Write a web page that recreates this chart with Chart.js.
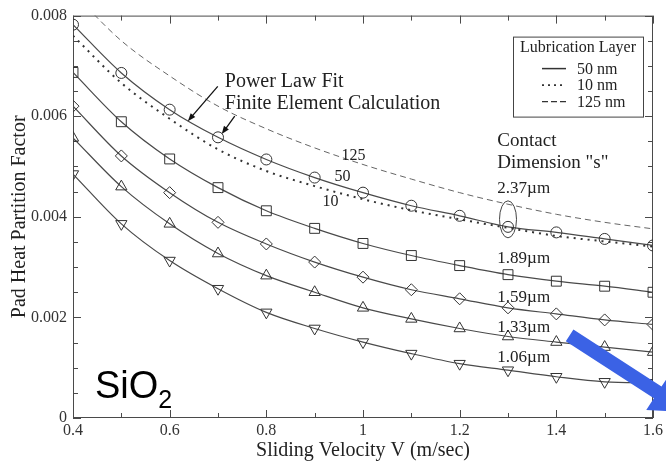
<!DOCTYPE html>
<html>
<head>
<meta charset="utf-8">
<script src="https://cdn.jsdelivr.net/npm/chart.js@4.4.1/dist/chart.umd.min.js"></script>
<style>
  html, body { margin: 0; padding: 0; background: #fff; }
  #wrap { width: 666px; height: 463px; }
</style>
</head>
<body>
<div id="wrap"><canvas id="c" width="666" height="463"></canvas></div>
<script>
// Sliding velocity (m/sec) at which each case was evaluated
const velocity = [0.4, 0.5, 0.6, 0.7, 0.8, 0.9, 1.0, 1.1, 1.2, 1.3, 1.4, 1.5, 1.6];

// Pad heat partition factor, 50 nm lubrication layer, by contact dimension "s"
const s237 = [0.00782, 0.00686, 0.00613, 0.00558, 0.00514, 0.00478, 0.00448, 0.00422, 0.00402, 0.00380, 0.00369, 0.00356, 0.00343];
const s189 = [0.00687, 0.00589, 0.00515, 0.00458, 0.00412, 0.00377, 0.00347, 0.00323, 0.00303, 0.00285, 0.00272, 0.00262, 0.00250];
const s159 = [0.00620, 0.00521, 0.00448, 0.00389, 0.00346, 0.00310, 0.00280, 0.00255, 0.00237, 0.00219, 0.00207, 0.00195, 0.00186];
const s133 = [0.00557, 0.00460, 0.00386, 0.00327, 0.00283, 0.00250, 0.00219, 0.00197, 0.00178, 0.00162, 0.00151, 0.00141, 0.00131];
const s106 = [0.00485, 0.00386, 0.00313, 0.00257, 0.00210, 0.00178, 0.00151, 0.00128, 0.00108, 0.00095, 0.00082, 0.00072, 0.00070];

// 2.37 µm contact with 10 nm and 125 nm lubrication layers
const lub10 = [0.00760, 0.00666, 0.00595, 0.00534, 0.00491, 0.00461, 0.00435, 0.00413, 0.00395, 0.00378, 0.00362, 0.00351, 0.00341];
const lub125 = [0.00845, 0.00750, 0.00680, 0.00620, 0.00575, 0.00537, 0.00504, 0.00475, 0.00448, 0.00425, 0.00405, 0.00389, 0.00376];

const sizeLabels = ['2.37\u00b5m', '1.89\u00b5m', '1.59\u00b5m', '1.33\u00b5m', '1.06\u00b5m'];
const lubLabels = ['50 nm', '10 nm', '125 nm'];
const xTickLabels = ['0.4', '0.6', '0.8', '1', '1.2', '1.4', '1.6'];
const yTickLabels = ['0', '0.002', '0.004', '0.006', '0.008'];

const SERIF = '"Liberation Serif", "Times New Roman", serif';
const SANS = '"Liberation Sans", Arial, sans-serif';
const INK = '#222';
const LINE = '#4a4a4a';

Chart.defaults.font.family = SERIF;
Chart.defaults.color = INK;

const pts = arr => velocity.map((v, i) => ({ x: v, y: arr[i] }));

function curve(label, arr, style, radius, rotation) {
  return {
    label, data: pts(arr),
    borderColor: LINE, borderWidth: 1.2,
    cubicInterpolationMode: 'monotone',
    pointStyle: style, pointRadius: radius, pointRotation: rotation || 0,
    pointBorderColor: '#333', pointBorderWidth: 1,
    pointBackgroundColor: 'rgba(0,0,0,0)'
  };
}

const datasets = [
  { label: '125 nm', data: pts(lub125), borderColor: '#666', borderWidth: 1,
    borderDash: [6, 4], pointRadius: 0, cubicInterpolationMode: 'monotone' },
  { label: '10 nm', data: pts(lub10), borderColor: '#333', borderWidth: 2,
    borderDash: [2, 5], pointRadius: 0, cubicInterpolationMode: 'monotone' },
  curve(sizeLabels[0], s237, 'circle', 5.5),
  curve(sizeLabels[1], s189, 'rect', 7),
  curve(sizeLabels[2], s159, 'rectRot', 6),
  curve(sizeLabels[3], s133, 'triangle', 6.5),
  curve(sizeLabels[4], s106, 'triangle', 6.5, 180)
];

// Text notes placed in data units
const notes = [
  { text: 'Power Law Fit', x: 0.714, y: 0.00659, size: 20 },
  { text: 'Finite Element Calculation', x: 0.714, y: 0.00614, size: 20 },
  { text: '125', x: 0.9556, y: 0.00513, size: 16 },
  { text: '50', x: 0.9411, y: 0.00471, size: 16 },
  { text: '10', x: 0.9163, y: 0.00422, size: 16 },
  { text: 'Contact', x: 1.278, y: 0.00541, size: 19 },
  { text: 'Dimension "s"', x: 1.278, y: 0.00497, size: 19 },
  { text: sizeLabels[0], x: 1.278, y: 0.00448, size: 17 },
  { text: sizeLabels[1], x: 1.278, y: 0.00309, size: 17 },
  { text: sizeLabels[2], x: 1.278, y: 0.00230, size: 17 },
  { text: sizeLabels[3], x: 1.278, y: 0.00170, size: 17 },
  { text: sizeLabels[4], x: 1.278, y: 0.00111, size: 17 }
];
const pointers = [
  { from: [0.6995, 0.006594], to: [0.6375, 0.005901] },
  { from: [0.7346, 0.00600], to: [0.7077, 0.005644] }
];
const ring = { x: 1.3, y: 0.00395, rx: 8.5, ry: 18.5 };
const material = { x: 0.4454, y: 0.000396 };
const blueArrow = { x: 1.4275, y: 0.001644, angle: 33, shaft: 105, half: 7, headHalf: 21, headLen: 36 };

const decor = {
  id: 'decor',
  beforeDatasetsDraw(chart) {
    const { ctx, chartArea: a, scales: { x, y } } = chart;
    ctx.save();
    ctx.strokeStyle = LINE;
    ctx.lineWidth = 1;
    ctx.strokeRect(a.left + 0.5, a.top + 0.5, a.right - a.left - 1, a.bottom - a.top - 1);

    const split = (scale, n) => {
      const v = scale.ticks.map(t => t.value);
      const minor = [];
      for (let i = 0; i + 1 < v.length; i++)
        for (let k = 1; k < n; k++) minor.push(v[i] + (v[i + 1] - v[i]) * k / n);
      return { major: v, minor };
    };
    const xs = split(x, 2), ys = split(y, 4);
    ctx.beginPath();
    const xt = (vals, len) => vals.forEach(v => {
      const p = Math.round(x.getPixelForValue(v)) + 0.5;
      ctx.moveTo(p, a.bottom); ctx.lineTo(p, a.bottom - len);
      ctx.moveTo(p, a.top); ctx.lineTo(p, a.top + len);
    });
    const yt = (vals, len) => vals.forEach(v => {
      const p = Math.round(y.getPixelForValue(v)) + 0.5;
      ctx.moveTo(a.left, p); ctx.lineTo(a.left + len, p);
      ctx.moveTo(a.right, p); ctx.lineTo(a.right - len, p);
    });
    xt(xs.major, 8); xt(xs.minor, 5);
    yt(ys.major, 8); yt(ys.minor, 5);
    ctx.stroke();
    ctx.restore();
  },
  afterDatasetsDraw(chart) {
    const { ctx, chartArea: a, scales: { x, y } } = chart;
    const px = v => x.getPixelForValue(v), py = v => y.getPixelForValue(v);
    ctx.save();
    ctx.fillStyle = INK;
    ctx.textBaseline = 'alphabetic';
    ctx.textAlign = 'left';
    notes.forEach(n => {
      ctx.font = n.size + 'px ' + SERIF;
      ctx.fillText(n.text, px(n.x), py(n.y));
    });

    // pointer arrows
    ctx.strokeStyle = '#111';
    ctx.fillStyle = '#111';
    ctx.lineWidth = 1.3;
    pointers.forEach(p => {
      const x0 = px(p.from[0]), y0 = py(p.from[1]), x1 = px(p.to[0]), y1 = py(p.to[1]);
      const ang = Math.atan2(y1 - y0, x1 - x0);
      ctx.beginPath(); ctx.moveTo(x0, y0);
      ctx.lineTo(x1 - 5 * Math.cos(ang), y1 - 5 * Math.sin(ang)); ctx.stroke();
      ctx.beginPath();
      ctx.moveTo(x1, y1);
      ctx.lineTo(x1 - 8 * Math.cos(ang) + 3 * Math.sin(ang), y1 - 8 * Math.sin(ang) - 3 * Math.cos(ang));
      ctx.lineTo(x1 - 8 * Math.cos(ang) - 3 * Math.sin(ang), y1 - 8 * Math.sin(ang) + 3 * Math.cos(ang));
      ctx.closePath(); ctx.fill();
    });

    // ellipse around the 2.37 µm pair at 1.3 m/sec
    ctx.strokeStyle = '#444';
    ctx.lineWidth = 1;
    ctx.beginPath();
    ctx.ellipse(px(ring.x), py(ring.y), ring.rx, ring.ry, 0, 0, Math.PI * 2);
    ctx.stroke();

    // legend box
    const lx = a.right - 140, ly = a.top + 21, w = 130, h = 80;
    ctx.fillStyle = '#fff';
    ctx.fillRect(lx, ly, w, h);
    ctx.strokeStyle = '#444';
    ctx.strokeRect(lx + 0.5, ly + 0.5, w, h);
    ctx.fillStyle = INK;
    ctx.font = '16px ' + SERIF;
    ctx.textAlign = 'center';
    ctx.fillText('Lubrication Layer', lx + w / 2, ly + 15);
    ctx.textAlign = 'left';
    const dashes = [[], [2, 4], [6, 3]];
    const widths = [1.5, 1.6, 1.3];
    lubLabels.forEach((t, i) => {
      const yy = ly + 32 + i * 16.5;
      ctx.save();
      ctx.strokeStyle = '#333';
      ctx.lineWidth = widths[i];
      ctx.setLineDash(dashes[i]);
      ctx.beginPath(); ctx.moveTo(lx + 29, yy); ctx.lineTo(lx + 53, yy); ctx.stroke();
      ctx.restore();
      ctx.fillText(t, lx + 64, yy + 5);
    });

    // material label
    ctx.fillStyle = '#000';
    ctx.font = '38px ' + SANS;
    const mx = px(material.x), my = py(material.y);
    ctx.fillText('SiO', mx, my);
    const wSiO = ctx.measureText('SiO').width;
    ctx.font = '25px ' + SANS;
    ctx.fillText('2', mx + wSiO, my + 10);

    // blue arrow
    const bx = px(blueArrow.x), by = py(blueArrow.y);
    const t = blueArrow.angle * Math.PI / 180;
    ctx.translate(bx, by);
    ctx.rotate(t);
    ctx.fillStyle = '#3b62e5';
    ctx.beginPath();
    ctx.moveTo(0, -blueArrow.half);
    ctx.lineTo(blueArrow.shaft, -blueArrow.half);
    ctx.lineTo(blueArrow.shaft, -blueArrow.headHalf);
    ctx.lineTo(blueArrow.shaft + blueArrow.headLen, 0);
    ctx.lineTo(blueArrow.shaft, blueArrow.headHalf);
    ctx.lineTo(blueArrow.shaft, blueArrow.half);
    ctx.lineTo(0, blueArrow.half);
    ctx.closePath();
    ctx.fill();
    ctx.restore();
  }
};

new Chart(document.getElementById('c'), {
  type: 'line',
  data: { datasets },
  plugins: [decor],
  options: {
    responsive: false,
    devicePixelRatio: 1,
    animation: false,
    layout: { padding: { top: 14, right: 12, left: 0, bottom: 0 } },
    plugins: { legend: { display: false }, tooltip: { enabled: false } },
    scales: {
      x: {
        type: 'linear', min: 0.4, max: 1.6,
        grid: { display: false, drawTicks: false }, border: { display: false },
        ticks: { stepSize: 0.2, autoSkip: false, maxRotation: 0, padding: 3,
                 font: { size: 16 }, color: '#333',
                 callback: (v, i) => xTickLabels[i] },
        title: { display: true, text: 'Sliding Velocity V (m/sec)', color: INK,
                 font: { size: 20 }, padding: { top: 0, bottom: 0 } },
        afterFit(s) { s.height = 45; }
      },
      y: {
        min: 0, max: 0.008,
        grid: { display: false, drawTicks: false }, border: { display: false },
        ticks: { stepSize: 0.002, padding: 6, font: { size: 16 }, color: '#333',
                 callback: (v, i) => yTickLabels[i] },
        title: { display: true, text: 'Pad Heat Partition Factor', color: INK,
                 font: { size: 20 }, padding: { top: 8, bottom: 0 } },
        afterFit(s) { s.width = 73; }
      }
    }
  }
});
</script>
</body>
</html>
